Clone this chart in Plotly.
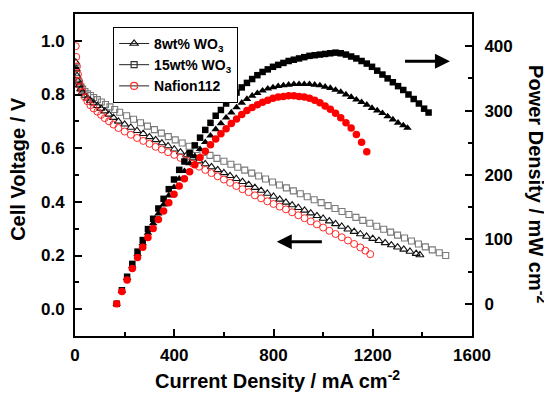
import plotly.graph_objects as go

FONT = "Liberation Sans, Arial, Helvetica, sans-serif"

# ---------------- polarization curves (left axis) ----------------
naf_i = [3, 5, 8, 12, 17, 23, 30, 40, 50, 62, 75, 90, 105, 120, 137, 155, 175,
         200, 225, 250, 275, 300, 325, 350, 375, 400,
         425, 450, 475, 500, 525, 550, 575, 600, 625, 650, 675, 700, 725, 750,
         775, 800, 825, 850, 875, 900, 925, 950, 975, 1000, 1025, 1050, 1075,
         1100, 1125, 1150, 1170, 1190]
naf_v = [0.98, 0.94, 0.905, 0.875, 0.85, 0.83, 0.81, 0.79, 0.775, 0.76, 0.748, 0.736, 0.724, 0.712, 0.70, 0.688, 0.675,
         0.662, 0.65, 0.638, 0.627, 0.616, 0.605, 0.595, 0.585, 0.575,
         0.564, 0.553, 0.542, 0.531, 0.519, 0.507, 0.495, 0.483, 0.471, 0.459, 0.447, 0.436, 0.424, 0.413,
         0.402, 0.392, 0.382, 0.372, 0.361, 0.350, 0.339, 0.327, 0.316, 0.304, 0.292, 0.280, 0.268,
         0.256, 0.243, 0.230, 0.218, 0.205]

w8_i = [3, 5, 8, 12, 17, 23, 30, 40, 50, 62, 75, 90, 105, 120, 137, 155, 175,
        200, 225, 250, 275, 300, 325, 350, 375, 400,
        425, 450, 475, 500, 525, 550, 575, 600, 625, 650,
        675, 700, 725, 750, 775, 800, 825, 850, 875, 900,
        925, 950, 975, 1000, 1025, 1050, 1075, 1100, 1125, 1150,
        1175, 1200, 1225, 1250, 1275, 1300, 1325, 1350, 1375, 1390]
w8_v = [0.92, 0.895, 0.87, 0.85, 0.835, 0.82, 0.808, 0.796, 0.786, 0.777, 0.768, 0.758, 0.748, 0.738, 0.726, 0.714, 0.70,
        0.689, 0.677, 0.665, 0.654, 0.642, 0.631, 0.619, 0.608, 0.596,
        0.585, 0.574, 0.563, 0.552, 0.541, 0.530, 0.519, 0.508, 0.497, 0.486,
        0.475, 0.464, 0.453, 0.442, 0.431, 0.420, 0.409, 0.398, 0.388, 0.378,
        0.368, 0.358, 0.348, 0.338, 0.328, 0.318, 0.308, 0.298, 0.289, 0.280,
        0.271, 0.263, 0.255, 0.247, 0.239, 0.231, 0.223, 0.215, 0.207, 0.202]

w15_i = [4, 6, 9, 13, 18, 24, 31, 40, 50, 62, 75, 90, 106, 123, 141, 160, 180,
         208, 236, 264, 292, 320, 348, 376, 404, 432, 460,
         488, 516, 544, 572, 600, 628, 656, 684, 712, 740,
         768, 796, 824, 852, 880, 908, 936, 964, 992, 1020,
         1048, 1076, 1104, 1132, 1160, 1188, 1216, 1244, 1272, 1300,
         1328, 1356, 1384, 1412, 1440, 1468, 1494]
w15_v = [0.897, 0.875, 0.86, 0.848, 0.838, 0.829, 0.82, 0.811, 0.803, 0.796, 0.789, 0.781, 0.772, 0.763, 0.754, 0.744, 0.734,
         0.721, 0.708, 0.695, 0.682, 0.669, 0.656, 0.643, 0.631, 0.619, 0.607,
         0.595, 0.584, 0.573, 0.562, 0.551, 0.540, 0.529, 0.518, 0.507, 0.496,
         0.485, 0.474, 0.463, 0.452, 0.441, 0.430, 0.419, 0.408, 0.397, 0.386,
         0.375, 0.364, 0.353, 0.342, 0.331, 0.320, 0.309, 0.298, 0.287, 0.276,
         0.265, 0.254, 0.243, 0.232, 0.221, 0.210, 0.200]

# ---------------- power density curves (right axis) ----------------
naf_pi = [168, 189, 210, 231, 252, 273, 294, 315, 336, 357,
          378, 399, 420, 441, 462, 483, 504, 525, 546, 567,
          588, 609, 630, 651, 672, 693, 714, 735, 756, 777,
          798, 819, 840, 861, 882, 903, 924, 945, 966, 987,
          1008, 1029, 1050, 1071, 1092, 1113, 1134, 1155, 1176]
naf_p = [0, 19, 37, 55, 72, 88, 103, 117, 131, 144,
         157, 170, 183, 194, 205, 216, 227, 237, 247, 256,
         264, 272, 280, 287, 294, 300, 305, 309, 313, 316,
         319, 321, 322, 323, 323, 322, 321, 319, 316, 312,
         307, 302, 296, 289, 281, 273, 263, 251, 236]

w8_pi = [168, 189, 210, 231, 252, 273, 294, 315, 336, 357,
         378, 399, 420, 441, 462, 483, 504, 525, 546, 567,
         588, 609, 630, 651, 672, 693, 714, 735, 756, 777,
         798, 819, 840, 861, 882, 903, 924, 945, 966, 987,
         1008, 1029, 1050, 1071, 1092, 1113, 1134, 1155, 1176, 1197,
         1218, 1239, 1260, 1281, 1302, 1323, 1340]
w8_p = [0, 20, 40, 59, 77, 94, 110, 125, 140, 154,
        168, 181, 194, 206, 218, 229, 240, 251, 261, 271,
        280, 289, 297, 305, 312, 318, 323, 327, 331, 334,
        336, 338, 339, 340, 341, 341, 341, 341, 340, 339,
        337, 335, 332, 329, 325, 321, 317, 313, 309, 304,
        300, 296, 291, 286, 281, 277, 273]

w15_pi = [168, 189, 210, 231, 252, 273, 294, 315, 336, 357,
          378, 399, 420, 441, 462, 483, 504, 525, 546, 567,
          588, 609, 630, 651, 672, 693, 714, 735, 756, 777,
          798, 819, 840, 861, 882, 903, 924, 945, 966, 987,
          1008, 1029, 1050, 1071, 1092, 1113, 1134, 1155, 1176, 1197,
          1218, 1239, 1260, 1281, 1302, 1323, 1344, 1365, 1386, 1407, 1425]
w15_p = [0, 21, 42, 62, 81, 99, 116, 132, 148, 163,
         178, 193, 208, 221, 234, 246, 258, 270, 281, 292,
         301, 311, 320, 328, 336, 343, 349, 355, 360, 364,
         368, 371, 374, 377, 379, 381, 383, 385, 386, 387,
         388, 389, 390, 389, 387, 384, 381, 377, 373, 368,
         362, 356, 350, 344, 338, 332, 325, 318, 311, 303, 297]

legend_names = ["8wt% WO<sub>3</sub>", "15wt% WO<sub>3</sub>", "Nafion112"]

RED = "#ff2a2a"
GRAY = "#7a7a7a"

fig = go.Figure()

# polarization (open markers)
fig.add_trace(go.Scatter(x=w15_i, y=w15_v, mode="markers", showlegend=False,
                         marker=dict(symbol="square-open", size=6, color=GRAY, line=dict(width=1.1))))
fig.add_trace(go.Scatter(x=w8_i, y=w8_v, mode="markers", showlegend=False,
                         marker=dict(symbol="triangle-up-open", size=7, color="#111111", line=dict(width=1.1))))
fig.add_trace(go.Scatter(x=naf_i, y=naf_v, mode="markers", showlegend=False,
                         marker=dict(symbol="circle-open", size=7, color=RED, line=dict(width=1))))

# power density (filled markers)
fig.add_trace(go.Scatter(x=w15_pi, y=w15_p, mode="markers", yaxis="y2", showlegend=False,
                         marker=dict(symbol="square", size=6.5, color="black")))
fig.add_trace(go.Scatter(x=w8_pi, y=w8_p, mode="markers", yaxis="y2", showlegend=False,
                         marker=dict(symbol="triangle-up", size=7.5, color="black")))
fig.add_trace(go.Scatter(x=naf_pi, y=naf_p, mode="markers", yaxis="y2", showlegend=False,
                         marker=dict(symbol="circle", size=7.5, color="#ff0000")))

# legend entries (line + open symbol)
leg_sym = [("triangle-up-open", "#111111", 7), ("square-open", "#333333", 6), ("circle-open", RED, 7)]
for name, (sym, col, sz) in zip(legend_names, leg_sym):
    fig.add_trace(go.Scatter(x=[None], y=[None], mode="lines+markers", name=name,
                             line=dict(color="#222222", width=1),
                             marker=dict(symbol=sym, size=sz, color=col, line=dict(width=1.2))))

tickfont = dict(family=FONT, size=17, color="black", weight="bold")
titlefont = dict(family=FONT, size=20, color="black", weight="bold")

axis_common = dict(showgrid=False, zeroline=False, showline=True, linecolor="black", linewidth=2,
                   ticks="inside", ticklen=7, tickwidth=2, tickcolor="black", tickfont=tickfont)

# the page body adds an 8 px margin, so the figure is 8 px smaller than the window
fig.update_layout(
    width=544, height=385,
    margin=dict(l=67, r=80, t=4, b=57),
    paper_bgcolor="white", plot_bgcolor="white",
    font=dict(family=FONT, color="black"),
    xaxis=dict(range=[0, 1600], tick0=0, dtick=400, mirror=True,
               minor=dict(dtick=200, ticks="inside", ticklen=4, tickwidth=1.5, tickcolor="black"),
               ticklabelstandoff=3, **axis_common),
    yaxis=dict(range=[-0.1, 1.1], tick0=0, dtick=0.2, tickformat=".1f",
               minor=dict(dtick=0.1, tick0=0, ticks="inside", ticklen=4, tickwidth=1.5, tickcolor="black"),
               ticklabelstandoff=5, **axis_common),
    yaxis2=dict(range=[-50, 450], tick0=0, dtick=100, overlaying="y", side="right",
                minor=dict(dtick=50, tick0=0, ticks="inside", ticklen=4, tickwidth=1.5, tickcolor="black"),
                ticklabelstandoff=7, **axis_common),
    legend=dict(x=0.096, y=0.96, xanchor="left", yanchor="top",
                bordercolor="black", borderwidth=1, bgcolor="white",
                font=dict(family=FONT, size=14, color="black", weight="bold"),
                tracegroupgap=0, itemwidth=30),
    annotations=[
        dict(text="Current Density / mA cm<sup>-2</sup>", xref="paper", yref="paper",
             x=0.511, y=-0.136, xanchor="center", yanchor="middle", showarrow=False, font=titlefont),
        dict(text="Cell Voltage / V", xref="paper", yref="paper", x=-0.1436, y=0.519,
             xanchor="center", yanchor="middle", textangle=-90, showarrow=False, font=titlefont),
        dict(text="Power Density / mW cm<sup>-2</sup>", xref="paper", yref="paper", x=1.166, y=0.472,
             xanchor="center", yanchor="middle", textangle=90, showarrow=False, font=titlefont),
        dict(text="", x=813, y=0.2516, xref="x", yref="y", ax=1001, ay=0.2516, axref="x", ayref="y",
             showarrow=True, arrowhead=2, arrowsize=1, arrowwidth=3, arrowcolor="black"),
        dict(text="", x=1511, y=0.924, xref="x", yref="y", ax=1324, ay=0.924, axref="x", ayref="y",
             showarrow=True, arrowhead=2, arrowsize=1, arrowwidth=3, arrowcolor="black"),
    ],
)

fig.write_html("out.html")
